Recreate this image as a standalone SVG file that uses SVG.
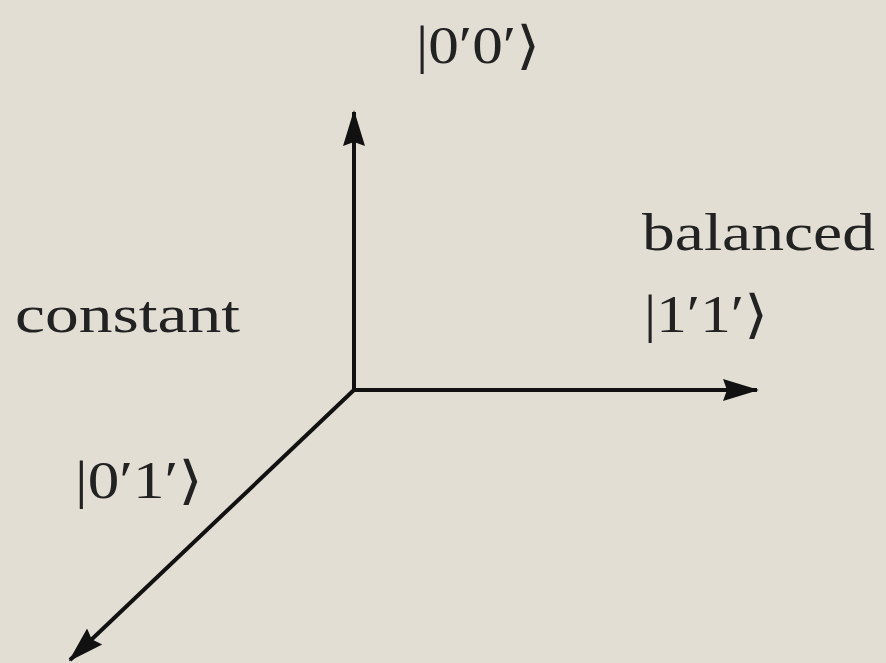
<svg xmlns="http://www.w3.org/2000/svg" width="886" height="663" viewBox="0 0 886 663">
<style>
.ax{stroke:#111;stroke-width:4;fill:none;marker-end:url(#ah)}
.t{font-family:"Liberation Serif","DejaVu Serif",serif;font-size:52px;fill:#222}
</style>
<defs>
<marker id="ah" markerUnits="userSpaceOnUse" markerWidth="36" markerHeight="24" refX="34" refY="12" orient="auto" viewBox="0 0 36 24">
<path d="M0,1 L36,12 L0,23 L4,12 z" fill="#111"/>
</marker>
</defs>
<rect width="886" height="663" fill="#e3ded4"/>
<g id="connectors">
<line class="ax" x1="354" y1="392" x2="354" y2="112"/>
<line class="ax" x1="352" y1="390" x2="757" y2="390"/>
<line class="ax" x1="355" y1="389" x2="70" y2="660"/>
</g>
<g id="label-00"><text class="t" x="416" y="63" textLength="124" lengthAdjust="spacingAndGlyphs">|0′0′⟩</text></g>
<g id="label-balanced"><text class="t" x="642" y="250" textLength="233" lengthAdjust="spacingAndGlyphs">balanced</text></g>
<g id="label-11"><text class="t" x="644" y="332" textLength="124" lengthAdjust="spacingAndGlyphs">|1′1′⟩</text></g>
<g id="label-constant"><text class="t" x="15" y="332" textLength="225" lengthAdjust="spacingAndGlyphs">constant</text></g>
<g id="label-01"><text class="t" x="75" y="498" textLength="128" lengthAdjust="spacingAndGlyphs">|0′1′⟩</text></g>
</svg>
